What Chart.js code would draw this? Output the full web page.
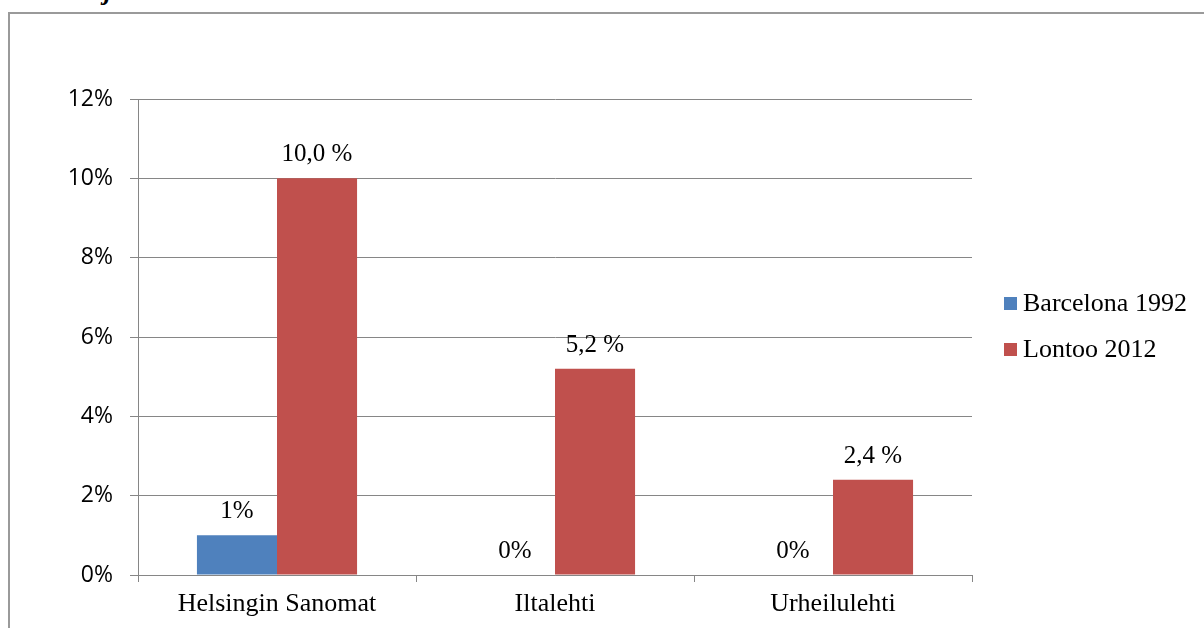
<!DOCTYPE html>
<html>
<head>
<meta charset="utf-8">
<script src="https://cdn.jsdelivr.net/npm/chart.js@4"></script>
<style>
    body { margin: 0; background: #fff; overflow: hidden; }
    #frame { position: absolute; left: 8px; top: 12px; width: 1300px; height: 700px; border: 2px solid #9a9a9a; }
    #cut { position: absolute; left: 104px; top: -23px; font: italic bold 26px "Liberation Serif", serif; color: #000; }
    #myChart { position: absolute; left: 0; top: 0; }
</style>
</head>
<body>
<div id="cut">j</div>
<div id="frame"></div>
<canvas id="myChart" width="1204" height="628"></canvas>
<script>
// data
const categories = ['Helsingin Sanomat', 'Iltalehti', 'Urheilulehti'];
const seriesNames = ['Barcelona 1992', 'Lontoo 2012'];
const barcelona = [1, 0, 0];
const lontoo = [10.0, 5.2, 2.4];
const barcelonaLabels = ['1%', '0%', '0%'];
const lontooLabels = ['10,0 %', '5,2 %', '2,4 %'];
const seriesColors = ['#4F81BD', '#C0504D'];

const serif = '"Liberation Serif", "Times New Roman", serif';

// value labels above the bars
const barLabels = {
    id: 'barLabels',
    afterDatasetsDraw(chart) {
        const ctx = chart.ctx;
        ctx.save();
        ctx.font = '25px ' + serif;
        ctx.fillStyle = '#000';
        ctx.textAlign = 'center';
        ctx.textBaseline = 'alphabetic';
        chart.data.datasets.forEach(function (ds, i) {
            chart.getDatasetMeta(i).data.forEach(function (bar, j) {
                ctx.fillText(ds.valueLabels[j], bar.x, bar.y - 17);
            });
        });
        ctx.restore();
    }
};

// legend at the right side
const sideLegend = {
    id: 'sideLegend',
    afterDraw(chart) {
        const ctx = chart.ctx;
        const area = chart.chartArea;
        ctx.save();
        ctx.font = '26px ' + serif;
        ctx.textAlign = 'left';
        ctx.textBaseline = 'alphabetic';
        chart.data.datasets.forEach(function (ds, i) {
            const top = area.top + 198 + i * 46;
            ctx.fillStyle = ds.backgroundColor;
            ctx.fillRect(area.right + 32, top, 13, 13);
            ctx.fillStyle = '#000';
            ctx.fillText(ds.label, area.right + 51, top + 14);
        });
        ctx.restore();
    }
};

const ctx = document.getElementById('myChart').getContext('2d');
const chart = new Chart(ctx, {
    type: 'bar',
    data: {
        labels: categories,
        datasets: [{
            label: seriesNames[0],
            data: barcelona,
            valueLabels: barcelonaLabels,
            backgroundColor: seriesColors[0],
            categoryPercentage: 0.576,
            barPercentage: 1.0
        }, {
            label: seriesNames[1],
            data: lontoo,
            valueLabels: lontooLabels,
            backgroundColor: seriesColors[1],
            categoryPercentage: 0.576,
            barPercentage: 1.0
        }]
    },
    plugins: [barLabels, sideLegend],
    options: {
        responsive: false,
        animation: false,
        layout: {
            padding: { top: 99, right: 232, left: 0, bottom: 0 }
        },
        scales: {
            x: {
                grid: {
                    offset: true,
                    drawOnChartArea: false,
                    color: '#868686',
                    tickLength: 7
                },
                border: { color: '#868686' },
                ticks: {
                    color: '#000',
                    padding: 7,
                    font: { family: serif, size: 26 }
                },
                afterFit: function (scale) { scale.height = 53; }
            },
            y: {
                min: 0,
                max: 12,
                grid: {
                    color: '#868686',
                    tickLength: 8
                },
                border: { color: '#868686' },
                ticks: {
                    stepSize: 2,
                    color: '#000',
                    padding: 17,
                    font: { family: '"Open Sans", sans-serif', size: 23 },
                    callback: function (value) { return value + '%'; }
                },
                afterFit: function (scale) { scale.width = 138; }
            }
        },
        plugins: {
            legend: { display: false },
            tooltip: { enabled: false }
        }
    }
});
</script>
</body>
</html>
